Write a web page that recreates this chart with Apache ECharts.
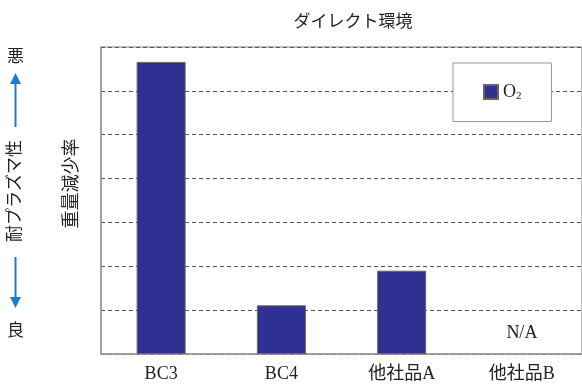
<!DOCTYPE html>
<html>
<head>
<meta charset="utf-8">
<script src="https://cdn.jsdelivr.net/npm/echarts@6/dist/echarts.min.js"></script>
<style>
html,body{margin:0;padding:0;background:#fff;}
#c{width:582px;height:385px;}
</style>
</head>
<body>
<div id="c"></div>
<script>
var titleText = 'ダイレクト環境';
var categories = ['BC3', 'BC4', '他社品A', '他社品B'];
var seriesName = 'O2';
var values = [6.66, 1.11, 1.90, null];
var yMin = 0, yMax = 7, yInterval = 1;
var yAxisName = '重量減少率';
var sideLabel = '耐プラズマ性';
var worseLabel = '悪';
var betterLabel = '良';
var naText = 'N/A';

var FONT = '"Liberation Serif", "Noto Sans CJK JP", serif';
var ARROW = '#1f7bc8';

var barData = values.map(function (v) {
  if (v === null) {
    return { value: 0, itemStyle: { color: 'rgba(0,0,0,0)', borderWidth: 0 },
      label: { show: true, formatter: naText, position: 'top', distance: 12,
               fontFamily: FONT, fontSize: 18, color: '#222' } };
  }
  return v;
});

var chart = echarts.init(document.getElementById('c'), null, { renderer: 'canvas' });
chart.setOption({
  animation: false,
  backgroundColor: '#fff',
  title: {
    text: titleText, left: 348, top: 9, textAlign: 'center',
    textStyle: { fontFamily: FONT, fontSize: 17, fontWeight: 'normal', color: '#222' }
  },
  grid: { left: 101, right: -3, top: 47, bottom: 31, show: true, borderColor: '#aaa', borderWidth: 1.5, backgroundColor: 'transparent' },
  legend: {
    left: 453, top: 63, width: 99, height: 57,
    padding: [20, 30, 20, 30],
    backgroundColor: '#fff', borderColor: '#999', borderWidth: 1,
    itemWidth: 14, itemHeight: 14, itemGap: 0,
    icon: 'rect',
    formatter: function () { return 'O{sub|2}'; },
    textStyle: { fontFamily: FONT, fontSize: 18, color: '#222',
      rich: { sub: { fontFamily: FONT, fontSize: 11, color: '#222', padding: [8, 0, 0, 0] } } },
    data: [seriesName]
  },
  xAxis: {
    type: 'category', data: categories,
    axisLine: { lineStyle: { color: '#999', width: 1.5 } },
    axisTick: { inside: true, length: 6, lineStyle: { color: '#777' } },
    axisLabel: { fontFamily: FONT, fontSize: 18, color: '#222', margin: 11 }
  },
  yAxis: {
    type: 'value', min: yMin, max: yMax, interval: yInterval,
    name: yAxisName, nameLocation: 'middle', nameRotate: 90, nameGap: 20,
    nameTextStyle: { fontFamily: FONT, fontSize: 18, color: '#222', padding: [0, 0, 0, 34] },
    axisLine: { show: true, lineStyle: { color: '#999', width: 1.5 } },
    axisTick: { show: false },
    axisLabel: { show: false },
    splitLine: { lineStyle: { color: '#555', type: [4, 3], width: 1 } }
  },
  series: [{
    name: seriesName, type: 'bar', data: barData, barWidth: 49,
    itemStyle: { color: '#2e3192', borderColor: '#666', borderWidth: 1 }
  }],
  graphic: [
    { type: 'text', left: 7, top: 49, style: { text: worseLabel, font: '17px ' + FONT, fill: '#222' } },
    { type: 'text', left: 7, top: 323, style: { text: betterLabel, font: '17px ' + FONT, fill: '#222' } },
    { type: 'line', shape: { x1: 15.5, y1: 127, x2: 15.5, y2: 83 }, style: { stroke: ARROW, lineWidth: 2 } },
    { type: 'polygon', shape: { points: [[15.5, 73], [10, 84], [21, 84]] }, style: { fill: ARROW } },
    { type: 'line', shape: { x1: 15.5, y1: 257, x2: 15.5, y2: 298 }, style: { stroke: ARROW, lineWidth: 2 } },
    { type: 'polygon', shape: { points: [[15.5, 308], [10, 297], [21, 297]] }, style: { fill: ARROW } },
    { type: 'text', x: 15.5, y: 191, rotation: Math.PI / 2,
      style: { text: sideLabel, font: '17px ' + FONT, fill: '#222', align: 'center', verticalAlign: 'middle' } }
  ]
});
</script>
</body>
</html>
